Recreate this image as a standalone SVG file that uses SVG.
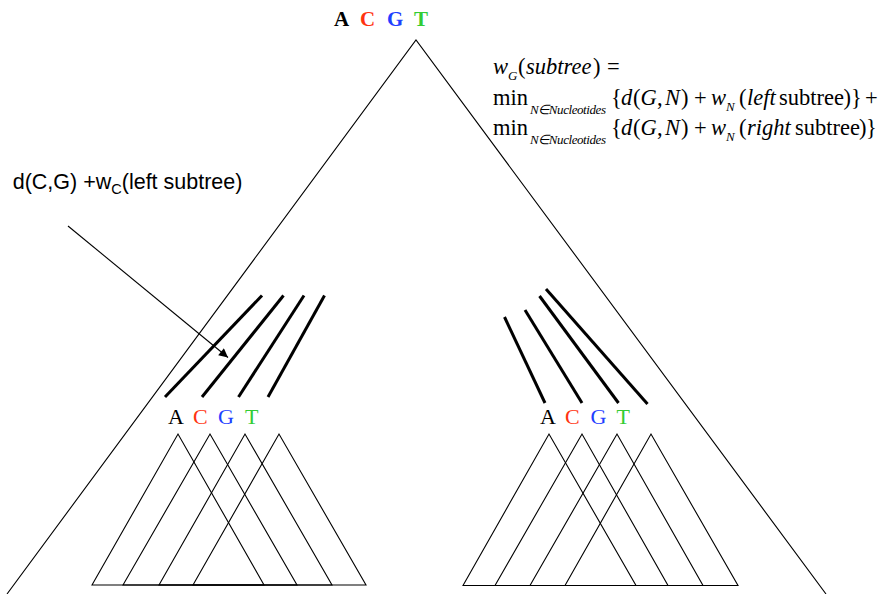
<svg xmlns="http://www.w3.org/2000/svg" width="879" height="594" viewBox="0 0 879 594">
<style>
.thin{fill:none;stroke:#000;stroke-width:1.1}
.thick{fill:none;stroke:#000;stroke-width:3;stroke-linecap:butt}
.ser{font-family:"Liberation Serif","Times New Roman",serif;font-size:22.5px;fill:#000}
.it{font-style:italic}
.sub{font-size:13px;font-style:italic}
.lab{font-family:"Liberation Sans",Arial,sans-serif;font-size:21.5px;fill:#000}
.a{fill:#000}.c{fill:#FF3311}.g{fill:#1F3FFF}.t{fill:#33CC33}
.nuc{font-family:"Liberation Serif","Times New Roman",serif;font-size:22px}
.top{font-family:"Liberation Serif","Times New Roman",serif;font-size:21px;font-weight:bold}
</style>
<defs>
<marker id="ah" viewBox="0 0 10 10" refX="10" refY="5" markerWidth="11" markerHeight="9" markerUnits="userSpaceOnUse" orient="auto">
<path d="M0,0 L10,5 L0,10 z" fill="#000"/>
</marker>
</defs>
<rect width="879" height="594" fill="#fff"/>

<g id="root">
<polyline class="thin" points="7,594 416,40 826,594"/>
<text class="top" y="26"><tspan class="a" x="334">A</tspan><tspan class="c" x="360">C</tspan><tspan class="g" x="387">G</tspan><tspan class="t" x="414">T</tspan></text>
</g>

<g id="formula" class="ser">
<text y="74"><tspan x="493" class="it">w</tspan><tspan x="508" dy="6" class="sub">G</tspan><tspan x="518" dy="-6">(</tspan><tspan x="526" class="it">subtree</tspan><tspan x="593">)</tspan><tspan x="607">=</tspan></text>
<text y="104.5"><tspan x="493">min</tspan><tspan x="530" dy="9" class="sub" textLength="76">N∈Nucleotides</tspan><tspan x="611" dy="-9">{</tspan><tspan x="621" class="it">d</tspan><tspan x="633">(</tspan><tspan x="640.5" class="it">G</tspan><tspan x="657">,</tspan><tspan x="665" class="it">N</tspan><tspan x="681">)</tspan><tspan x="694">+</tspan><tspan x="711" class="it">w</tspan><tspan x="726" dy="6" class="sub">N</tspan><tspan x="739" dy="-6">(</tspan><tspan x="747" class="it">left</tspan><tspan x="779">subtree</tspan><tspan x="843.5">)</tspan><tspan x="851">}</tspan><tspan x="865">+</tspan></text>
<text y="134.5"><tspan x="493">min</tspan><tspan x="530" dy="9" class="sub" textLength="76">N∈Nucleotides</tspan><tspan x="611" dy="-9">{</tspan><tspan x="621" class="it">d</tspan><tspan x="633">(</tspan><tspan x="640.5" class="it">G</tspan><tspan x="657">,</tspan><tspan x="665" class="it">N</tspan><tspan x="681">)</tspan><tspan x="694">+</tspan><tspan x="711" class="it">w</tspan><tspan x="726" dy="6" class="sub">N</tspan><tspan x="739" dy="-6">(</tspan><tspan x="747" class="it">right</tspan><tspan x="795">subtree</tspan><tspan x="859">)</tspan><tspan x="866">}</tspan></text>
</g>

<g id="label">
<text class="lab" x="12.7" y="189">d(C,G) +w<tspan font-size="14.5" dy="5">C</tspan><tspan dy="-5">(left subtree)</tspan></text>
</g>

<g id="left-subtree">
<text class="nuc" y="424"><tspan class="a" x="168">A</tspan><tspan class="c" x="193">C</tspan><tspan class="g" x="218">G</tspan><tspan class="t" x="245">T</tspan></text>
<polygon class="thin" points="92,585 178,434 264,585"/>
<polygon class="thin" points="123,585 210,434 297,585"/>
<polygon class="thin" points="159,585 245,434 332,585"/>
<polygon class="thin" points="193,585 279,434 366,585"/>
</g>

<g id="right-subtree">
<text class="nuc" y="423.5"><tspan class="a" x="540">A</tspan><tspan class="c" x="565">C</tspan><tspan class="g" x="590.5">G</tspan><tspan class="t" x="616.5">T</tspan></text>
<polygon class="thin" points="463,585.5 549,434 636,585.5"/>
<polygon class="thin" points="495,585.5 582,434 668,585.5"/>
<polygon class="thin" points="530,585.5 617,434 703,585.5"/>
<polygon class="thin" points="565,585.5 651,434 738,585.5"/>
</g>

<g id="connectors">
<line class="thick" x1="165" y1="397" x2="262" y2="295.5"/>
<line class="thick" x1="202" y1="397" x2="283.5" y2="295.5"/>
<line class="thick" x1="238.5" y1="397" x2="304" y2="295.5"/>
<line class="thick" x1="268" y1="397" x2="324.5" y2="295.5"/>
<line class="thick" x1="504.5" y1="317" x2="545" y2="403"/>
<line class="thick" x1="525" y1="310" x2="582" y2="403"/>
<line class="thick" x1="539.5" y1="296" x2="618.5" y2="403"/>
<line class="thick" x1="546" y1="289" x2="647.5" y2="404"/>
<line class="thin" x1="68" y1="226" x2="228" y2="357.5" marker-end="url(#ah)"/>
</g>
</svg>
